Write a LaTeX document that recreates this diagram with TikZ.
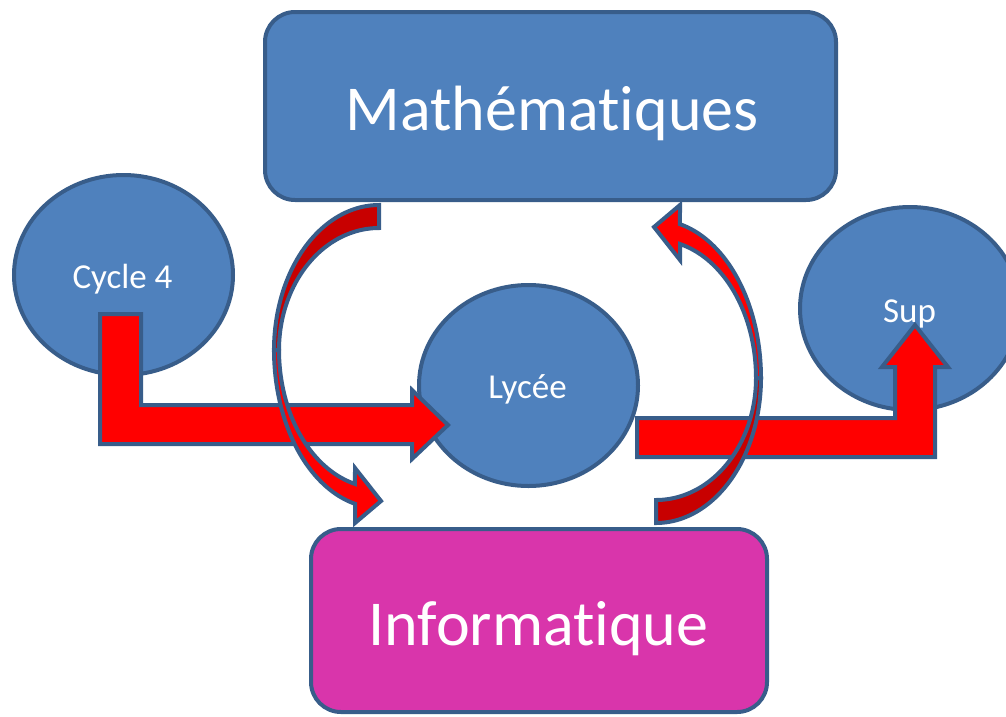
\documentclass[tikz,border=0pt]{standalone}
\usepackage{fontspec}
\setmainfont{Carlito}[Ligatures=NoCommon]
\usetikzlibrary{shapes.geometric}
\definecolor{fillblue}{HTML}{4F81BD}
\definecolor{edgeblue}{HTML}{385D8A}
\definecolor{infomag}{HTML}{D935AB}
\definecolor{arrowred}{HTML}{FF0000}
\definecolor{backred}{HTML}{C80000}

% one curved block arrow: dark back band from the tail, bright front band ending in a head
\newcommand\swoosh{%
  \path[backband] (379,205)
    -- plot[domain=270:180, samples=50] ({379+105*cos(\x)},{350+145*sin(\x)})
    -- plot[domain=180:270, samples=50] ({379+100*cos(\x)},{350+122*sin(\x)})
    -- cycle;
  \path[flow] (274,350)
    -- plot[domain=180:103.2, samples=50] ({379+105*cos(\x)},{350+158*sin(\x)})
    -- (355,523) -- (381,501) -- (355,468)
    -- plot[domain=103.9:180, samples=50] ({379+100*cos(\x)},{350+138*sin(\x)})
    -- cycle;
}

\begin{document}
\begin{tikzpicture}[x=1pt,y=-1pt,
  subject/.style={rectangle, rounded corners=30pt, draw=edgeblue, line width=4pt,
    inner sep=0pt, outer sep=0pt},
  level/.style={ellipse, draw=edgeblue, fill=fillblue, line width=4pt,
    inner sep=0pt, outer sep=0pt},
  bigtext/.style={text=white, font=\fontsize{64}{64}\selectfont, anchor=base, inner sep=0pt},
  smalltext/.style={text=white, font=\fontsize{35}{35}\selectfont, anchor=base, inner sep=0pt},
  flow/.style={draw=edgeblue, fill=arrowred, line width=4pt, line join=miter},
  backband/.style={draw=edgeblue, fill=backred, line width=4pt, line join=miter}
]
\useasboundingbox (0,0) rectangle (1006,716);
\clip (0,0) rectangle (1006,716);

% subject boxes
\node[subject, fill=fillblue, minimum width=571pt, minimum height=188pt] (math) at (550.5,106) {};
\node[bigtext] (mathlabel) at (552,130) {Mathématiques};
\node[subject, fill=infomag, minimum width=456pt, minimum height=183pt] (info) at (539,620.5) {};
\node[bigtext] (infolabel) at (538.5,645) {Informatique};

% school levels
\node[level, minimum width=219pt, minimum height=200pt] (cycle) at (123.5,275) {};
\node[smalltext] (cyclelabel) at (122.5,288) {Cycle 4};
\node[level, minimum width=219pt, minimum height=201pt] (lycee) at (528.5,385.5) {};
\node[smalltext] (lyceelabel) at (527.5,398) {Lycée};
\node[level, minimum width=220pt, minimum height=203pt] (sup) at (910,308.5) {};
\node[smalltext] (suplabel) at (909.5,322) {Sup};

% Cycle 4 -> Lycée
\path[flow] (100,314) -- (141,314) -- (141,405) -- (412,405) -- (412,390)
  -- (448,425) -- (412,459) -- (412,444) -- (100,444) -- cycle;
% Lycée -> Sup
\path[flow] (637,418) -- (895,418) -- (895,367) -- (882,367) -- (915,325)
  -- (948,367) -- (935,367) -- (935,457) -- (637,457) -- cycle;

% Mathématiques -> Informatique
\swoosh
% Informatique -> Mathématiques
\begin{scope}[rotate around={180:(517.5,364)}]
  \swoosh
\end{scope}
\end{tikzpicture}
\end{document}
